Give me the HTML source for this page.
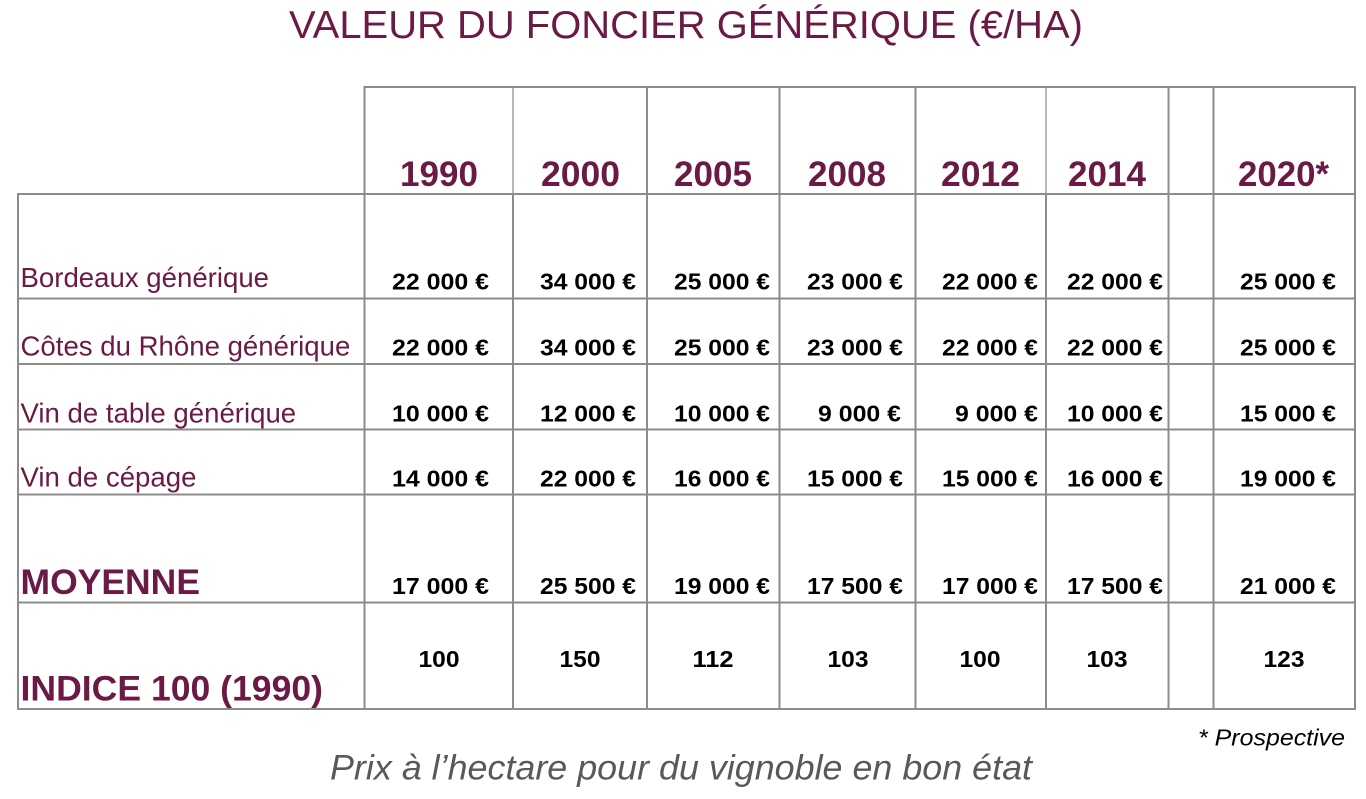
<!DOCTYPE html>
<html>
<head>
<meta charset="utf-8">
<style>
  html, body { margin:0; padding:0; background:#ffffff; }
  body { width:1366px; height:799px; overflow:hidden; }
  svg { display:block; }
  .title { font-family:"Liberation Sans", sans-serif; font-size:39px; fill:#6a1a45; }
  .year { font-family:"Liberation Sans", sans-serif; font-weight:bold; font-size:35px; fill:#6a1a45; }
  .lab { font-family:"Liberation Sans", sans-serif; font-size:27.6px; fill:#6a1a45; }
  .labb { font-family:"Liberation Sans", sans-serif; font-weight:bold; font-size:35px; fill:#6a1a45; }
  .val { font-family:"Liberation Sans", sans-serif; font-weight:bold; font-size:23px; fill:#000; }
  .note { font-family:"Liberation Sans", sans-serif; font-style:italic; font-size:23px; fill:#000; }
  .cap { font-family:"Liberation Sans", sans-serif; font-style:italic; font-size:35px; fill:#595959; }
</style>
</head>
<body>
<svg width="1366" height="799" viewBox="0 0 1366 799" xmlns="http://www.w3.org/2000/svg">
  <!-- Title -->
  <text class="title" x="289" y="38" textLength="794" lengthAdjust="spacingAndGlyphs">VALEUR DU FONCIER GÉNÉRIQUE (€/HA)</text>

  <!-- Grid -->
  <g stroke="#8c8c8c" stroke-width="2" fill="none">
    <!-- header top -->
    <line x1="364" y1="87" x2="1356" y2="87"/>
    <!-- horizontal rows -->
    <line x1="17" y1="194" x2="1356" y2="194"/>
    <line x1="17" y1="298.5" x2="1356" y2="298.5"/>
    <line x1="17" y1="364" x2="1356" y2="364"/>
    <line x1="17" y1="429.5" x2="1356" y2="429.5"/>
    <line x1="17" y1="494.5" x2="1356" y2="494.5"/>
    <line x1="17" y1="602.5" x2="1356" y2="602.5"/>
    <line x1="17" y1="709" x2="1356" y2="709"/>
    <!-- left border (body only) -->
    <line x1="18" y1="193" x2="18" y2="710"/>
    <!-- column lines body -->
    <line x1="364.5" y1="86" x2="364.5" y2="710"/>
    <line x1="513" y1="194" x2="513" y2="710"/>
    <line x1="647" y1="86" x2="647" y2="710"/>
    <line x1="779.5" y1="86" x2="779.5" y2="710"/>
    <line x1="915.5" y1="86" x2="915.5" y2="710"/>
    <line x1="1046" y1="194" x2="1046" y2="710"/>
    <line x1="1168.5" y1="86" x2="1168.5" y2="710"/>
    <line x1="1213.5" y1="86" x2="1213.5" y2="710"/>
    <line x1="1355" y1="86" x2="1355" y2="710"/>
  </g>
  <g stroke="#b8b8b8" stroke-width="2">
    <line x1="513" y1="88" x2="513" y2="193"/>
    <line x1="1046" y1="88" x2="1046" y2="193"/>
  </g>

  <!-- Years -->
  <text class="year" x="400" y="186" textLength="78" lengthAdjust="spacingAndGlyphs">1990</text>
  <text class="year" x="541" y="186" textLength="79" lengthAdjust="spacingAndGlyphs">2000</text>
  <text class="year" x="674" y="186" textLength="78" lengthAdjust="spacingAndGlyphs">2005</text>
  <text class="year" x="808" y="186" textLength="78" lengthAdjust="spacingAndGlyphs">2008</text>
  <text class="year" x="941" y="186" textLength="79" lengthAdjust="spacingAndGlyphs">2012</text>
  <text class="year" x="1068" y="186" textLength="78" lengthAdjust="spacingAndGlyphs">2014</text>
  <text class="year" x="1238" y="186" textLength="91" lengthAdjust="spacingAndGlyphs">2020*</text>

  <!-- Row labels -->
  <text class="lab" x="20.5" y="287">Bordeaux générique</text>
  <text class="lab" x="20.5" y="355.7">Côtes du Rhône générique</text>
  <text class="lab" x="20.5" y="422.3">Vin de table générique</text>
  <text class="lab" x="20.5" y="486.7">Vin de cépage</text>
  <text class="labb" x="20.5" y="594" textLength="179.5" lengthAdjust="spacingAndGlyphs">MOYENNE</text>
  <text class="labb" x="20.5" y="700.7" textLength="302.5" lengthAdjust="spacingAndGlyphs">INDICE 100 (1990)</text>

  <!-- Values -->
  <g class="val" text-anchor="end">
    <!-- Bordeaux -->
    <text x="489" y="289.5" textLength="97" lengthAdjust="spacingAndGlyphs">22 000 €</text>
    <text x="636" y="289.5" textLength="96" lengthAdjust="spacingAndGlyphs">34 000 €</text>
    <text x="770" y="289.5" textLength="96" lengthAdjust="spacingAndGlyphs">25 000 €</text>
    <text x="903" y="289.5" textLength="96" lengthAdjust="spacingAndGlyphs">23 000 €</text>
    <text x="1038" y="289.5" textLength="96" lengthAdjust="spacingAndGlyphs">22 000 €</text>
    <text x="1163" y="289.5" textLength="96" lengthAdjust="spacingAndGlyphs">22 000 €</text>
    <text x="1336" y="289.5" textLength="96" lengthAdjust="spacingAndGlyphs">25 000 €</text>
    <!-- Côtes du Rhône -->
    <text x="489" y="355.5" textLength="97" lengthAdjust="spacingAndGlyphs">22 000 €</text>
    <text x="636" y="355.5" textLength="96" lengthAdjust="spacingAndGlyphs">34 000 €</text>
    <text x="770" y="355.5" textLength="96" lengthAdjust="spacingAndGlyphs">25 000 €</text>
    <text x="903" y="355.5" textLength="96" lengthAdjust="spacingAndGlyphs">23 000 €</text>
    <text x="1038" y="355.5" textLength="96" lengthAdjust="spacingAndGlyphs">22 000 €</text>
    <text x="1163" y="355.5" textLength="96" lengthAdjust="spacingAndGlyphs">22 000 €</text>
    <text x="1336" y="355.5" textLength="96" lengthAdjust="spacingAndGlyphs">25 000 €</text>
    <!-- Vin de table -->
    <text x="489" y="421.5" textLength="97" lengthAdjust="spacingAndGlyphs">10 000 €</text>
    <text x="636" y="421.5" textLength="96" lengthAdjust="spacingAndGlyphs">12 000 €</text>
    <text x="770" y="421.5" textLength="96" lengthAdjust="spacingAndGlyphs">10 000 €</text>
    <text x="901" y="421.5" textLength="83" lengthAdjust="spacingAndGlyphs">9 000 €</text>
    <text x="1038" y="421.5" textLength="83" lengthAdjust="spacingAndGlyphs">9 000 €</text>
    <text x="1163" y="421.5" textLength="96" lengthAdjust="spacingAndGlyphs">10 000 €</text>
    <text x="1336" y="421.5" textLength="96" lengthAdjust="spacingAndGlyphs">15 000 €</text>
    <!-- Vin de cépage -->
    <text x="489" y="486.7" textLength="97" lengthAdjust="spacingAndGlyphs">14 000 €</text>
    <text x="636" y="486.7" textLength="96" lengthAdjust="spacingAndGlyphs">22 000 €</text>
    <text x="770" y="486.7" textLength="96" lengthAdjust="spacingAndGlyphs">16 000 €</text>
    <text x="903" y="486.7" textLength="96" lengthAdjust="spacingAndGlyphs">15 000 €</text>
    <text x="1038" y="486.7" textLength="96" lengthAdjust="spacingAndGlyphs">15 000 €</text>
    <text x="1163" y="486.7" textLength="96" lengthAdjust="spacingAndGlyphs">16 000 €</text>
    <text x="1336" y="486.7" textLength="96" lengthAdjust="spacingAndGlyphs">19 000 €</text>
    <!-- Moyenne -->
    <text x="489" y="594" textLength="97" lengthAdjust="spacingAndGlyphs">17 000 €</text>
    <text x="636" y="594" textLength="96" lengthAdjust="spacingAndGlyphs">25 500 €</text>
    <text x="770" y="594" textLength="96" lengthAdjust="spacingAndGlyphs">19 000 €</text>
    <text x="903" y="594" textLength="96" lengthAdjust="spacingAndGlyphs">17 500 €</text>
    <text x="1038" y="594" textLength="96" lengthAdjust="spacingAndGlyphs">17 000 €</text>
    <text x="1163" y="594" textLength="96" lengthAdjust="spacingAndGlyphs">17 500 €</text>
    <text x="1336" y="594" textLength="96" lengthAdjust="spacingAndGlyphs">21 000 €</text>
  </g>

  <!-- Indice -->
  <g class="val" text-anchor="middle">
    <text x="439" y="667" textLength="41" lengthAdjust="spacingAndGlyphs">100</text>
    <text x="580" y="667" textLength="41" lengthAdjust="spacingAndGlyphs">150</text>
    <text x="713" y="667" textLength="41" lengthAdjust="spacingAndGlyphs">112</text>
    <text x="848" y="667" textLength="41" lengthAdjust="spacingAndGlyphs">103</text>
    <text x="980" y="667" textLength="41" lengthAdjust="spacingAndGlyphs">100</text>
    <text x="1107" y="667" textLength="41" lengthAdjust="spacingAndGlyphs">103</text>
    <text x="1284" y="667" textLength="41" lengthAdjust="spacingAndGlyphs">123</text>
  </g>

  <!-- Footnotes -->
  <text class="note" x="1198" y="745.7" textLength="147" lengthAdjust="spacingAndGlyphs">* Prospective</text>
  <text class="cap" x="330" y="779.3" textLength="702" lengthAdjust="spacingAndGlyphs">Prix à l’hectare pour du vignoble en bon état</text>
</svg>
</body>
</html>
